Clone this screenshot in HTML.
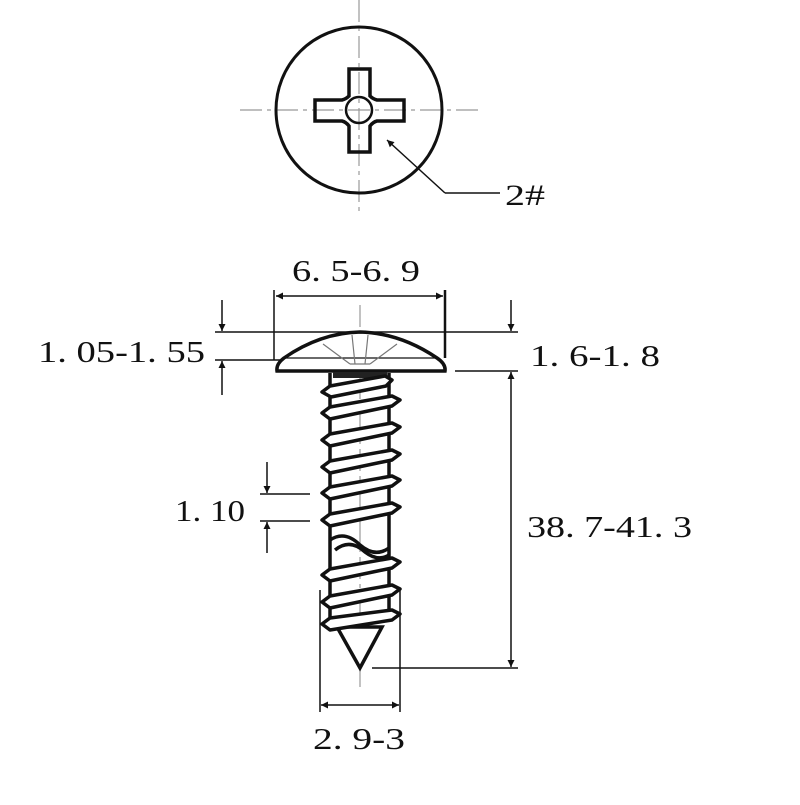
<!DOCTYPE html>
<html><head><style>
body{margin:0;background:#fff}
svg text{font-family:"Liberation Serif",serif;fill:#111}
</style></head><body>
<svg width="800" height="800" viewBox="0 0 800 800" xmlns="http://www.w3.org/2000/svg">
<defs>
<marker id="a" viewBox="0 0 10 10" refX="10" refY="5" markerWidth="14" markerHeight="7" orient="auto-start-reverse" markerUnits="userSpaceOnUse"><path d="M0,0L10,5L0,10z" fill="#111"/></marker>
</defs>
<g stroke="#999" stroke-width="1.2" stroke-dasharray="22,5,4,5">
<line x1="359" y1="0" x2="359" y2="215"/>
<line x1="240" y1="110" x2="480" y2="110"/>
<line x1="360" y1="305" x2="360" y2="690"/>
</g>
<circle cx="359" cy="110" r="83" fill="none" stroke="#111" stroke-width="3"/>
<path d="M349,69 H370 V96 Q373,99 377,100 H404 V121 H377 Q373,122 370,126 V152 H349 V126 Q346,122 342,121 H315 V100 H342 Q346,99 349,96 Z" fill="none" stroke="#111" stroke-width="3.5"/>
<circle cx="359" cy="110" r="13" fill="none" stroke="#111" stroke-width="2.5"/>
<path d="M445,193 L387,140" stroke="#111" stroke-width="1.5" marker-end="url(#a)"/>
<line x1="445" y1="193" x2="500" y2="193" stroke="#111" stroke-width="1.5"/>
<text x="505" y="205" font-size="30" textLength="40" lengthAdjust="spacingAndGlyphs">2#</text>
<g stroke="#111" stroke-width="1.5" fill="none">
<line x1="274" y1="290" x2="274" y2="360"/>
<line x1="445" y1="290" x2="445" y2="358" stroke-width="2.5"/>
<line x1="276" y1="296" x2="443" y2="296" marker-start="url(#a)" marker-end="url(#a)"/>
<line x1="215" y1="332" x2="518" y2="332"/>
<line x1="215" y1="360" x2="325" y2="360"/>
<line x1="222" y1="300" x2="222" y2="331" marker-end="url(#a)"/>
<line x1="222" y1="395" x2="222" y2="361" marker-end="url(#a)"/>
<line x1="455" y1="371" x2="518" y2="371"/>
<line x1="511" y1="300" x2="511" y2="331" marker-end="url(#a)"/>
<line x1="511" y1="372" x2="511" y2="667" marker-start="url(#a)" marker-end="url(#a)"/>
<line x1="372" y1="668" x2="518" y2="668"/>
<line x1="260" y1="494" x2="310" y2="494"/>
<line x1="260" y1="521" x2="310" y2="521"/>
<line x1="267" y1="462" x2="267" y2="493" marker-end="url(#a)"/>
<line x1="267" y1="553" x2="267" y2="522" marker-end="url(#a)"/>
<line x1="320" y1="590" x2="320" y2="712"/>
<line x1="400" y1="590" x2="400" y2="712"/>
<line x1="321" y1="705" x2="399" y2="705" marker-start="url(#a)" marker-end="url(#a)"/>
</g>
<path d="M277,371 Q276,364 284,358 Q320,333 360,332 Q400,333 437,358 Q446,364 445,371 Z" fill="#fff" stroke="#111" stroke-width="3.5"/>
<line x1="284" y1="358" x2="437" y2="358" stroke="#111" stroke-width="1.2"/>
<g stroke="#777" stroke-width="1.2" fill="none">
<path d="M323,344 L350,364 M397,344 L370,364 M350,364 H370 M352,335 L355,364 M368,335 L365,364"/>
</g>
<g stroke="#111" stroke-width="3.5" fill="#fff">
<path d="M330,373 V620 M389,373 V620" fill="none"/>
<rect x="333" y="372" width="54" height="6" fill="#222" stroke="none"/>
<path d="M337,627 L382,627 L360,668 Z"/>
</g>
<g stroke="#111" stroke-width="3.5" fill="#fff" stroke-linejoin="round">
<polygon points="322,392 330,386 385,376 392,380 386,386 331,397"/>
<polygon points="322,413 330,407 392,396 400,400 392,406 330,419"/>
<polygon points="322,440 330,434 392,423 400,427 392,433 330,446"/>
<polygon points="322,467 330,461 392,450 400,454 392,460 330,473"/>
<polygon points="322,493 330,487 392,476 400,480 392,486 330,499"/>
<polygon points="322,520 330,514 392,503 400,507 392,513 330,526"/>
<path d="M330,540 Q345,530 360,545 Q375,558 389,548" fill="none"/>
<path d="M335,550 Q350,538 365,552 Q378,562 389,555" fill="none"/>
<polygon points="322,575 330,569 392,558 400,562 392,568 330,581"/>
<polygon points="322,602 330,596 392,585 400,589 392,595 330,608"/>
<polygon points="322,624 330,618 392,610 400,614 392,620 330,630"/>
</g>
<g font-size="31" lengthAdjust="spacingAndGlyphs">
<text x="292" y="281" textLength="128" lengthAdjust="spacingAndGlyphs">6. 5-6. 9</text>
<text x="38" y="362" textLength="167" lengthAdjust="spacingAndGlyphs">1. 05-1. 55</text>
<text x="530" y="366" textLength="130" lengthAdjust="spacingAndGlyphs">1. 6-1. 8</text>
<text x="175" y="521" textLength="70" lengthAdjust="spacingAndGlyphs">1. 10</text>
<text x="527" y="537" textLength="165" lengthAdjust="spacingAndGlyphs">38. 7-41. 3</text>
<text x="313" y="749" textLength="92" lengthAdjust="spacingAndGlyphs">2. 9-3</text>
</g>
</svg>
</body></html>
